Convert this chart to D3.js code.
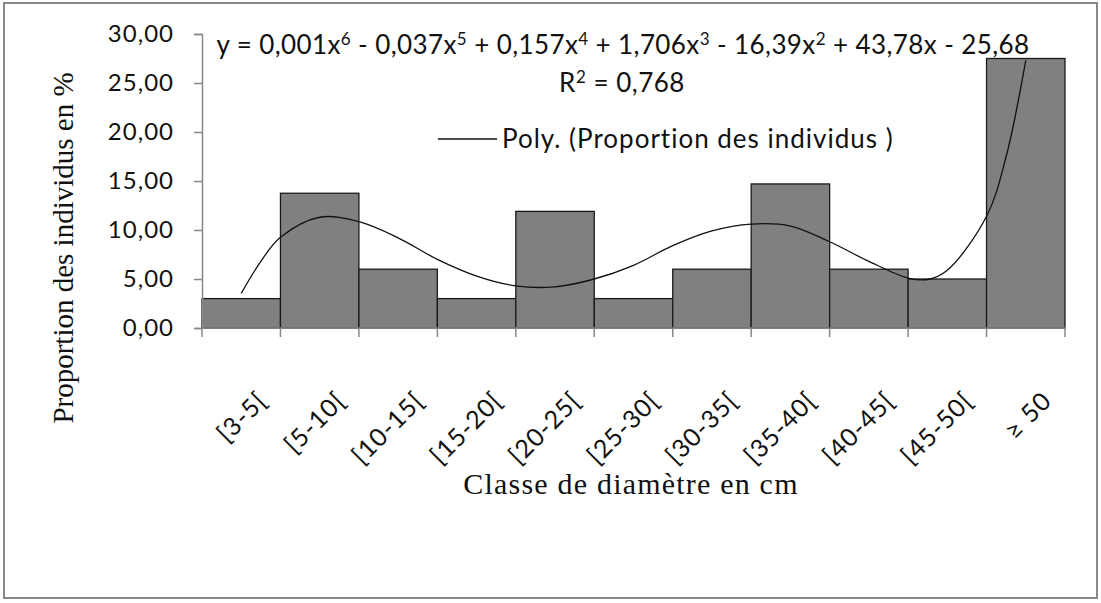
<!DOCTYPE html>
<meta charset="utf-8">
<title>Classe de diamètre</title>
<style>
body { margin: 0; background: #fff; }
svg { display: block; }
.tick text { font-family: Lato, "Open Sans", sans-serif; }
</style>
<script src="https://d3js.org/d3.v7.min.js"></script>
<body>
<script>
// categories and bar heights (%)
var classes = ["[3-5[", "[5-10[", "[10-15[", "[15-20[", "[20-25[", "[25-30[",
               "[30-35[", "[35-40[", "[40-45[", "[45-50[", "\u2265 50"];
var proportion = [3.0, 13.75, 6.0, 3.0, 11.9, 3.0, 6.0, 14.7, 6.0, 5.0, 27.5];

// polynomial trend line (position 1..11 = class index)
var trendPos = [1, 1.25, 1.5, 2, 2.5, 3, 3.5, 4, 4.5, 5, 5.5, 6, 6.5, 7, 7.5, 8,
                8.5, 9, 9.5, 9.75, 10, 10.5, 10.75, 11];
var trendVal = [3.54, 6.8, 9.25, 11.3, 10.85, 9.2, 7.0, 5.3, 4.3, 4.2, 5.0, 6.4,
                8.4, 9.9, 10.6, 10.4, 8.8, 6.8, 5.1, 4.95, 5.9, 11.4, 17.5, 27.3];

var yTicks = [0, 5, 10, 15, 20, 25, 30];

// equation parts: even index = normal text, odd index = exponent
var eqParts = ["y = 0,001x", "6", " - 0,037x", "5", " + 0,157x", "4", " + 1,706x", "3",
               " - 16,39x", "2", " + 43,78x - 25,68"];

var width = 1101, height = 603;
var mLeft = 202, mRight = 1065, mTop = 34, mBottom = 328;

var svg = d3.select("body").append("svg")
    .attr("width", width)
    .attr("height", height);

// outer frame
svg.append("rect")
    .attr("x", 4).attr("y", 3)
    .attr("width", 1093).attr("height", 595)
    .attr("fill", "none")
    .attr("stroke", "#888")
    .attr("stroke-width", 2);

var x = d3.scaleBand().domain(classes).range([mLeft, mRight]).padding(0);
var xPos = d3.scaleLinear().domain([0.5, 11.5]).range([mLeft, mRight]);
var y = d3.scaleLinear().domain([0, 30]).range([mBottom, mTop]);

// bars
svg.selectAll("rect.bar")
    .data(proportion)
  .enter().append("rect")
    .attr("class", "bar")
    .attr("x", function(d, i) { return x(classes[i]); })
    .attr("y", function(d) { return y(d); })
    .attr("width", x.bandwidth())
    .attr("height", function(d) { return y(0) - y(d); })
    .attr("fill", "#808080")
    .attr("stroke", "#1a1a1a")
    .attr("stroke-width", 1.3);

// y axis
var yAxis = svg.append("g")
    .attr("transform", "translate(" + mLeft + ",0)")
    .call(d3.axisLeft(y).tickValues(yTicks).tickSize(8).tickPadding(20)
      .tickFormat(function(d) { return d3.format(".2f")(d).replace(".", ","); }));
yAxis.select(".domain").attr("stroke", "#888").attr("stroke-width", 1.5);
yAxis.selectAll(".tick line").attr("stroke", "#888").attr("stroke-width", 1.5);
yAxis.selectAll(".tick text")
    .attr("fill", "#111")
    .style("font-size", "24px")
    .style("letter-spacing", "1px");

// x axis line + ticks at band edges
svg.append("line")
    .attr("x1", mLeft).attr("x2", mRight)
    .attr("y1", mBottom).attr("y2", mBottom)
    .attr("stroke", "#888").attr("stroke-width", 1.5);
var edges = d3.range(classes.length + 1).map(function(i) { return xPos(i + 0.5); });
svg.selectAll("line.xtick")
    .data(edges)
  .enter().append("line")
    .attr("class", "xtick")
    .attr("x1", function(d) { return d; }).attr("x2", function(d) { return d; })
    .attr("y1", mBottom).attr("y2", mBottom + 9)
    .attr("stroke", "#888").attr("stroke-width", 1.5);

// x labels, rotated
svg.selectAll("text.xlab")
    .data(classes)
  .enter().append("text")
    .attr("class", "xlab")
    .attr("transform", function(d) {
      return "translate(" + (x(d) + x.bandwidth() / 2 + 15) + ",390) rotate(-45)";
    })
    .attr("text-anchor", "end")
    .attr("dy", "0.7em")
    .style("font-family", "Lato, 'Open Sans', sans-serif")
    .style("font-size", "25px")
    .style("letter-spacing", "1px")
    .attr("fill", "#111")
    .text(function(d) { return d; });

// trend line
var line = d3.line()
    .x(function(d, i) { return xPos(trendPos[i]); })
    .y(function(d) { return y(d); })
    .curve(d3.curveCatmullRom.alpha(0.5));
svg.append("path")
    .datum(trendVal)
    .attr("d", line)
    .attr("fill", "none")
    .attr("stroke", "#111")
    .attr("stroke-width", 1.3);

// equation with real superscripts
var eq = svg.append("text")
    .attr("x", 623).attr("y", 54)
    .attr("text-anchor", "middle")
    .style("font-family", "Lato, 'Open Sans', sans-serif")
    .style("font-size", "26px")
    .style("letter-spacing", "0.4px")
    .attr("fill", "#111");
eqParts.forEach(function(p, i) {
  var sup = i % 2 === 1;
  var prevSup = i > 0 && (i - 1) % 2 === 1;
  eq.append("tspan")
    .attr("dy", sup ? -9 : (prevSup ? 9 : 0))
    .style("font-size", sup ? "17px" : null)
    .text(p);
});

var r2 = svg.append("text")
    .attr("x", 622).attr("y", 92)
    .attr("text-anchor", "middle")
    .style("font-family", "Lato, 'Open Sans', sans-serif")
    .style("font-size", "26px")
    .style("letter-spacing", "0.5px")
    .attr("fill", "#111");
r2.append("tspan").text("R");
r2.append("tspan").attr("dy", -9).style("font-size", "17px").text("2");
r2.append("tspan").attr("dy", 9).text(" = 0,768");

// legend
svg.append("line")
    .attr("x1", 438).attr("x2", 497)
    .attr("y1", 139).attr("y2", 139)
    .attr("stroke", "#111").attr("stroke-width", 1.3);
svg.append("text")
    .attr("x", 502).attr("y", 148)
    .style("font-family", "Lato, 'Open Sans', sans-serif")
    .style("font-size", "26px")
    .style("letter-spacing", "1px")
    .attr("fill", "#111")
    .text("Poly. (Proportion des individus )");

// axis titles
svg.append("text")
    .attr("x", 631).attr("y", 494)
    .attr("text-anchor", "middle")
    .style("font-family", "'Liberation Serif', 'DejaVu Serif', serif")
    .style("font-size", "30px")
    .style("letter-spacing", "1.2px")
    .attr("fill", "#111")
    .text("Classe de diamètre en cm");
svg.append("text")
    .attr("transform", "translate(73,248) rotate(-90)")
    .attr("text-anchor", "middle")
    .style("font-family", "'Liberation Serif', 'DejaVu Serif', serif")
    .style("font-size", "29px")
    .attr("fill", "#111")
    .text("Proportion des individus en %");
</script>
